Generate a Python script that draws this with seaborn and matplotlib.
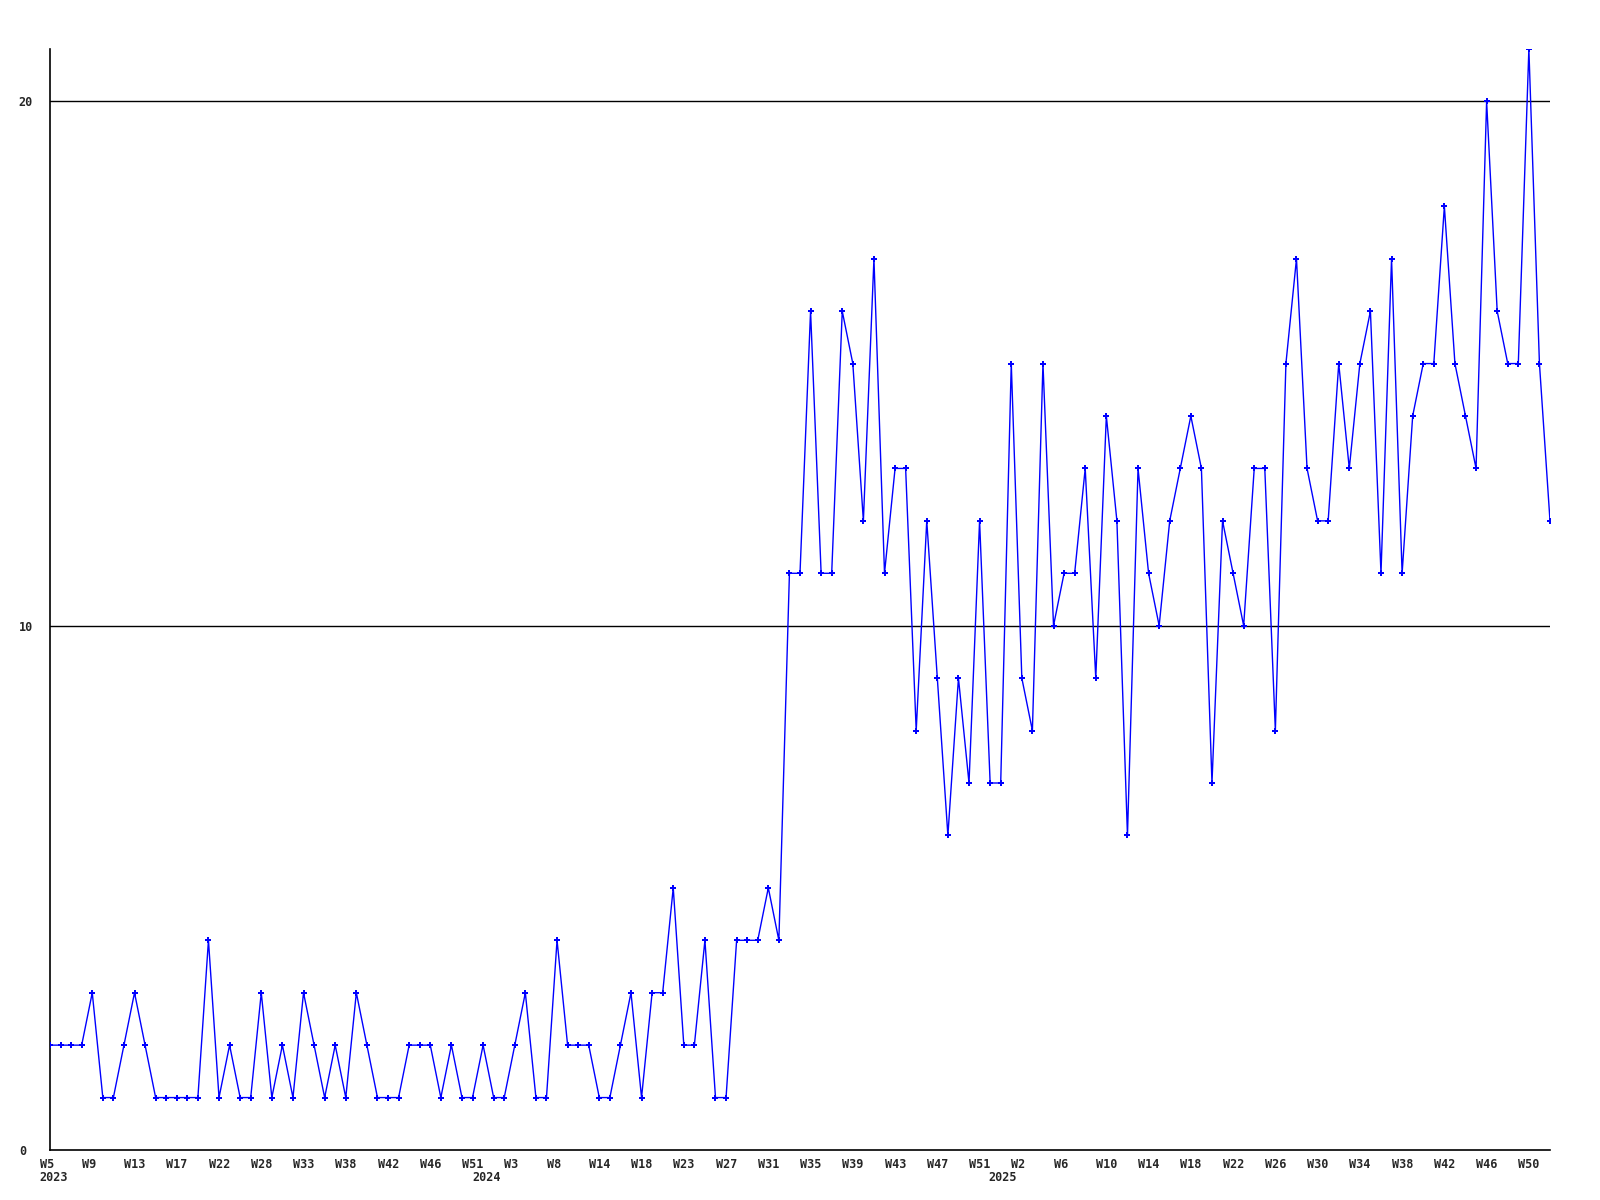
import matplotlib
matplotlib.use("Agg")
import matplotlib.pyplot as plt
import seaborn as sns
import pandas as pd
import numpy as np
from matplotlib.transforms import ScaledTranslation

# ---- data -------------------------------------------------------------
values = [
    2, 2, 2, 2, 3, 1, 1, 2, 3, 2,
    1, 1, 1, 1, 1, 4, 1, 2, 1, 1,
    3, 1, 2, 1, 3, 2, 1, 2, 1, 3,
    2, 1, 1, 1, 2, 2, 2, 1, 2, 1,
    1, 2, 1, 1, 2, 3, 1, 1, 4, 2,
    2, 2, 1, 1, 2, 3, 1, 3, 3, 5,
    2, 2, 4, 1, 1, 4, 4, 4, 5, 4,
    11, 11, 16, 11, 11, 16, 15, 12, 17, 11,
    13, 13, 8, 12, 9, 6, 9, 7, 12, 7,
    7, 15, 9, 8, 15, 10, 11, 11, 13, 9,
    14, 12, 6, 13, 11, 10, 12, 13, 14, 13,
    7, 12, 11, 10, 13, 13, 8, 15, 17, 13,
    12, 12, 15, 13, 15, 16, 11, 17, 11, 14,
    15, 15, 18, 15, 14, 13, 20, 16, 15, 15,
    21, 15, 12,
]

week_labels = [
    "W5", "W9", "W13", "W17", "W22", "W28", "W33", "W38", "W42", "W46",
    "W51", "W3", "W8", "W14", "W18", "W23", "W27", "W31", "W35", "W39",
    "W43", "W47", "W51", "W2", "W6", "W10", "W14", "W18", "W22", "W26",
    "W30", "W34", "W38", "W42", "W46", "W50",
]
label_step = 4

year_labels = ["2023", "2024", "2025"]
year_label_pos = [-1.0, 40.0, 88.8]   # index position of each year label's left edge

y_ticks = [0, 10, 20]

df = pd.DataFrame({"idx": np.arange(len(values)), "value": values})

# ---- style -------------------------------------------------------------
sns.set_style("white")
plt.rcParams["font.family"] = ["DejaVu Sans Mono", "DejaVu Sans"]

fig = plt.figure(figsize=(16, 12), dpi=100)
ax = fig.add_axes([50 / 1600, 1 - 1150 / 1200, 1500 / 1600, (1150 - 49) / 1200])

for yv in y_ticks[1:]:
    ax.axhline(yv, color="black", linewidth=1.0, zorder=1)

sns.lineplot(
    data=df, x="idx", y="value", ax=ax,
    color="#0000ff", linewidth=1.0,
    marker="P", markersize=4.5, markeredgewidth=0,
    markerfacecolor="#0000ff", zorder=3,
)

ax.set_xlim(0, len(values) - 1)
ax.set_ylim(0, 21)

for side in ["top", "right"]:
    ax.spines[side].set_visible(False)
for side in ["left", "bottom"]:
    ax.spines[side].set_color("black")
    ax.spines[side].set_linewidth(1.2)

ax.set_xlabel("")
ax.set_ylabel("")

tick_pos = np.arange(0, label_step * len(week_labels), label_step)
ax.set_xticks(tick_pos)
ax.set_xticklabels(week_labels, fontsize=8.5, fontweight="bold", ha="left")
ax.set_yticks(y_ticks)
ax.set_yticklabels([str(v) for v in y_ticks], fontsize=8.5, fontweight="bold", ha="left")
ax.tick_params(axis="x", length=0, pad=6)
ax.tick_params(axis="y", length=0, pad=22.5)

# shift x tick labels so their left edge sits ~10.5 px left of the tick
shift = ScaledTranslation(-10.5 / 100, 0, fig.dpi_scale_trans)
for tick in ax.xaxis.get_major_ticks():
    tick.label1.set_transform(tick.label1.get_transform() + shift)

for txt, xp in zip(year_labels, year_label_pos):
    ax.annotate(txt, xy=(xp, 0), xycoords=("data", "axes fraction"),
                xytext=(0, -21), textcoords="offset pixels",
                ha="left", va="top", fontsize=8.5, fontweight="bold",
                annotation_clip=False)

ax.grid(False)
fig.savefig("out.png", dpi=100, facecolor="white")
